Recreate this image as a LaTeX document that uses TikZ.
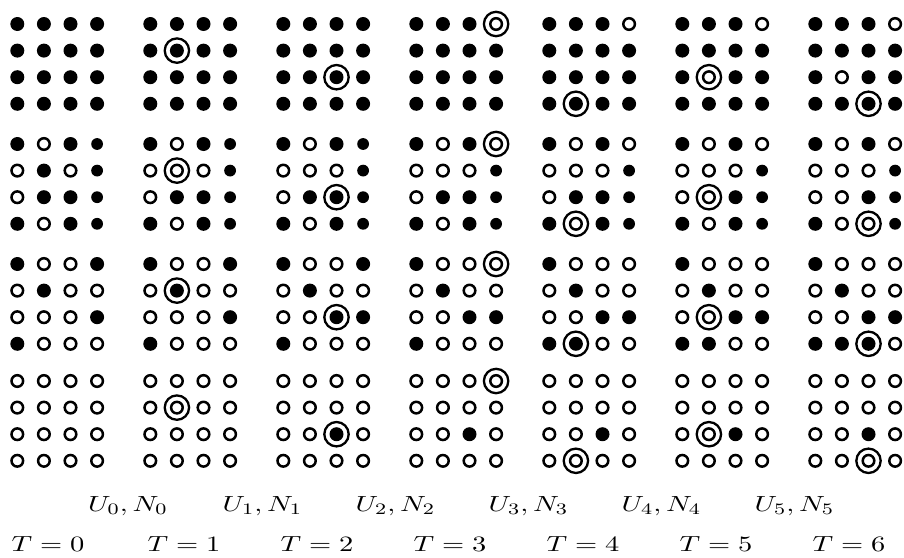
\documentclass[tikz,border=0pt]{standalone}
\usepackage{graphicx}
\tikzset{
  hollowdot/.style={draw=black, line width=1.25pt},
  ringline/.style={draw=black, line width=1.15pt},
  lab/.style={anchor=base, inner sep=0pt, font=\fontsize{10.8}{13}\selectfont}
}
\newcommand\wlab[1]{\scalebox{1.3}[1]{$#1$}}
\newcommand\dotgrid[5]{%
  \foreach \v [count=\i from 0] in {#3} {%
    \pgfmathtruncatemacro\rr{\i/4}%
    \pgfmathtruncatemacro\cc{mod(\i,4)}%
    \pgfmathsetmacro\xx{17.3+#1*133+\cc*26.6}%
    \pgfmathsetmacro\yy{#2+\rr*26.6}%
    \ifcase\v\relax
      \draw[hollowdot] (\xx,\yy) circle[radius=2.9pt];
    \or
      \fill (\xx,\yy) circle[radius=3.5pt];
    \or
      \fill (\xx,\yy) circle[radius=2.95pt];
    \fi
  }%
  \ifnum#4>-1
    \draw[ringline] ({17.3+#1*133+#5*26.6},{#2+#4*26.6}) circle[radius=6.1pt];
  \fi
}
\begin{document}
\begin{tikzpicture}[x=0.5pt,y=-0.5pt]
\useasboundingbox (0,0) rectangle (904,557);
% band 1
\dotgrid{0}{24}{1,1,1,1,1,1,1,1,1,1,1,1,1,1,1,1}{-1}{-1}
\dotgrid{1}{24}{1,1,1,1,1,1,1,1,1,1,1,1,1,1,1,1}{1}{1}
\dotgrid{2}{24}{1,1,1,1,1,1,1,1,1,1,1,1,1,1,1,1}{2}{2}
\dotgrid{3}{24}{1,1,1,0,1,1,1,1,1,1,1,1,1,1,1,1}{0}{3}
\dotgrid{4}{24}{1,1,1,0,1,1,1,1,1,1,1,1,1,1,1,1}{3}{1}
\dotgrid{5}{24}{1,1,1,0,1,1,1,1,1,0,1,1,1,1,1,1}{2}{1}
\dotgrid{6}{24}{1,1,1,0,1,1,1,1,1,0,1,1,1,1,1,1}{3}{2}
% band 2
\dotgrid{0}{144}{1,0,1,2,0,1,0,2,0,1,1,2,1,0,1,2}{-1}{-1}
\dotgrid{1}{144}{1,0,1,2,0,0,0,2,0,1,1,2,1,0,1,2}{1}{1}
\dotgrid{2}{144}{1,0,1,2,0,0,0,2,0,1,1,2,1,0,1,2}{2}{2}
\dotgrid{3}{144}{1,0,1,0,0,0,0,2,0,1,1,2,1,0,1,2}{0}{3}
\dotgrid{4}{144}{1,0,1,0,0,0,0,2,0,1,1,2,1,0,1,2}{3}{1}
\dotgrid{5}{144}{1,0,1,0,0,0,0,2,0,0,1,2,1,0,1,2}{2}{1}
\dotgrid{6}{144}{1,0,1,0,0,0,0,2,0,0,1,2,1,0,0,2}{3}{2}
% band 3
\dotgrid{0}{264}{1,0,0,1,0,1,0,0,0,0,0,1,1,0,0,0}{-1}{-1}
\dotgrid{1}{264}{1,0,0,1,0,1,0,0,0,0,0,1,1,0,0,0}{1}{1}
\dotgrid{2}{264}{1,0,0,1,0,1,0,0,0,0,1,1,1,0,0,0}{2}{2}
\dotgrid{3}{264}{1,0,0,0,0,1,0,0,0,0,1,1,1,0,0,0}{0}{3}
\dotgrid{4}{264}{1,0,0,0,0,1,0,0,0,0,1,1,1,1,0,0}{3}{1}
\dotgrid{5}{264}{1,0,0,0,0,1,0,0,0,0,1,1,1,1,0,0}{2}{1}
\dotgrid{6}{264}{1,0,0,0,0,1,0,0,0,0,1,1,1,1,1,0}{3}{2}
% band 4
\dotgrid{0}{381}{0,0,0,0,0,0,0,0,0,0,0,0,0,0,0,0}{-1}{-1}
\dotgrid{1}{381}{0,0,0,0,0,0,0,0,0,0,0,0,0,0,0,0}{1}{1}
\dotgrid{2}{381}{0,0,0,0,0,0,0,0,0,0,1,0,0,0,0,0}{2}{2}
\dotgrid{3}{381}{0,0,0,0,0,0,0,0,0,0,1,0,0,0,0,0}{0}{3}
\dotgrid{4}{381}{0,0,0,0,0,0,0,0,0,0,1,0,0,0,0,0}{3}{1}
\dotgrid{5}{381}{0,0,0,0,0,0,0,0,0,0,1,0,0,0,0,0}{2}{1}
\dotgrid{6}{381}{0,0,0,0,0,0,0,0,0,0,1,0,0,0,0,0}{3}{2}
% labels
\node[lab] (u0) at (128,511) {\wlab{U_0, N_0}};
\node[lab] (u1) at (262.5,511) {\wlab{U_1, N_1}};
\node[lab] (u2) at (395.5,511) {\wlab{U_2, N_2}};
\node[lab] (u3) at (528.5,511) {\wlab{U_3, N_3}};
\node[lab] (u4) at (661.5,511) {\wlab{U_4, N_4}};
\node[lab] (u5) at (794.5,511) {\wlab{U_5, N_5}};
\node[lab] (t0) at (48,551.5) {\wlab{T = 0}};
\node[lab] (t1) at (184,551.5) {\wlab{T = 1}};
\node[lab] (t2) at (317,551.5) {\wlab{T = 2}};
\node[lab] (t3) at (450,551.5) {\wlab{T = 3}};
\node[lab] (t4) at (583,551.5) {\wlab{T = 4}};
\node[lab] (t5) at (716,551.5) {\wlab{T = 5}};
\node[lab] (t6) at (849,551.5) {\wlab{T = 6}};
\end{tikzpicture}
\end{document}
